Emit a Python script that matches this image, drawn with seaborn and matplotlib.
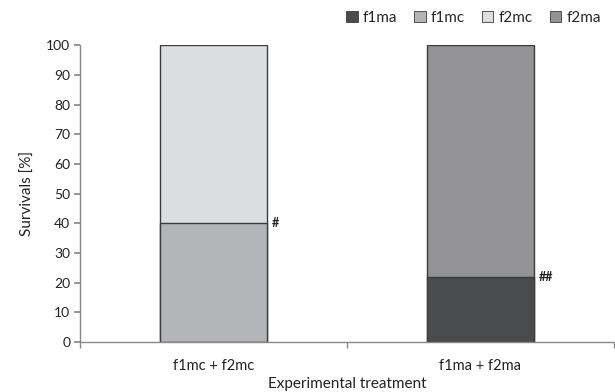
import matplotlib
matplotlib.use("Agg")
import matplotlib.pyplot as plt
import seaborn as sns
import pandas as pd
from matplotlib.patches import Patch

treatments = ["f1mc + f2mc", "f1ma + f2ma"]
bottom_series = ["f1mc", "f1ma"]
bottom_values = [40, 22]
top_series = ["f2mc", "f2ma"]
top_values = [60, 78]
marks = ["#", "##"]
legend_order = ["f1ma", "f1mc", "f2mc", "f2ma"]
colors = {"f1ma": "#4a4b4d", "f1mc": "#b3b4b7", "f2mc": "#dcdddf", "f2ma": "#929396"}

sns.set_theme(style="white")
plt.rcParams["font.family"] = ["Lato", "DejaVu Sans"]

df_top = pd.DataFrame({"treatment": treatments, "series": top_series,
                       "value": [b + t for b, t in zip(bottom_values, top_values)]})
df_bot = pd.DataFrame({"treatment": treatments, "series": bottom_series, "value": bottom_values})

fig = plt.figure(figsize=(6.15, 3.92), dpi=100)
ax = fig.add_axes([0.130, 0.1276, 0.868, 0.757])

sns.barplot(data=df_top, x="treatment", y="value", hue="series", palette=colors,
            dodge=False, width=0.4, edgecolor="#3c3c3c", linewidth=1.0, ax=ax, legend=False)
sns.barplot(data=df_bot, x="treatment", y="value", hue="series", palette=colors,
            dodge=False, width=0.4, edgecolor="#3c3c3c", linewidth=1.0, ax=ax, legend=False)

ax.set_xlim(-0.5, 1.5)
ax.set_ylim(0, 100)
ax.set_yticks(range(0, 101, 10))
ax.set_xticks([-0.5, 0.5, 1.5], minor=True)
for i, (v, m) in enumerate(zip(bottom_values, marks)):
    ax.text(i + 0.22, v, m, ha="left", va="center", fontsize=9, fontweight="bold", color="#222222")

for s in ["top", "right"]:
    ax.spines[s].set_visible(False)
for s in ["left", "bottom"]:
    ax.spines[s].set_color("#888888")
    ax.spines[s].set_linewidth(1.0)
ax.tick_params(axis="y", which="major", left=True, length=4, color="#888888", labelsize=10, labelcolor="#222222", pad=3)
ax.tick_params(axis="x", which="major", bottom=False, labelsize=10.5, labelcolor="#222222", pad=6)
ax.tick_params(axis="x", which="minor", bottom=True, length=4, color="#888888")
ax.set_xlabel("Experimental treatment", fontsize=11, color="#222222", labelpad=3)
ax.set_ylabel("Survivals [%]", fontsize=11, color="#222222", labelpad=8)

handles = [Patch(facecolor=colors[s], edgecolor="#3c3c3c", linewidth=0.6, label=s) for s in legend_order]
fig.legend(handles=handles, loc="center", bbox_to_anchor=(0.77, 0.955), ncol=4, frameon=False,
           fontsize=11, handlelength=0.75, handleheight=0.75, handletextpad=0.35, columnspacing=1.1)

fig.savefig("out.png", dpi=100)
